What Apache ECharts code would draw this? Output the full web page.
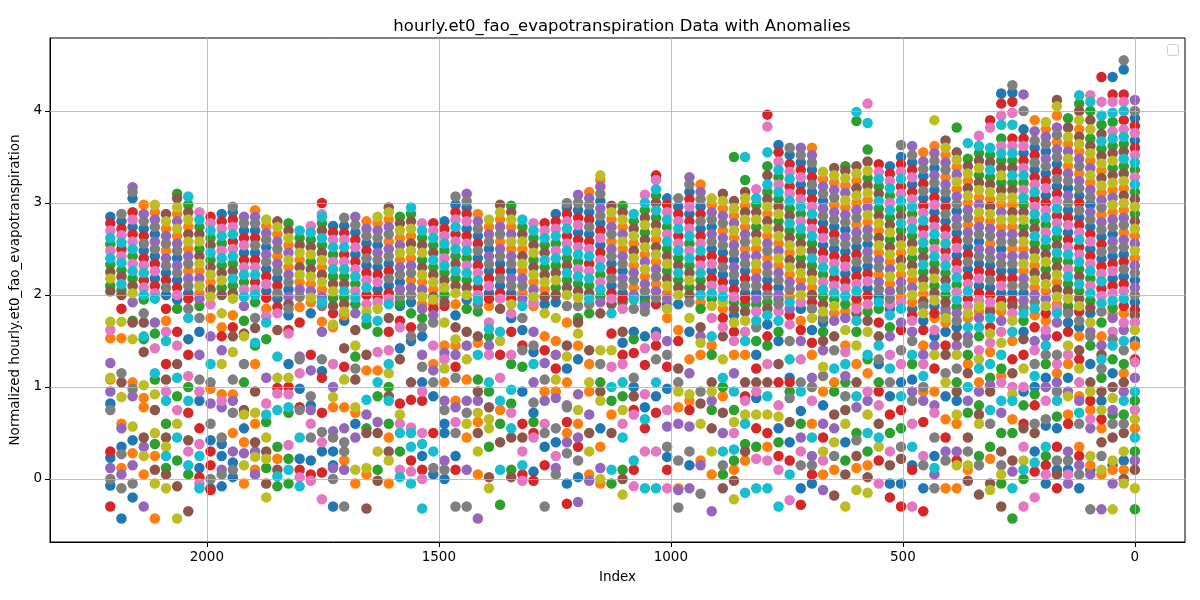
<!DOCTYPE html>
<html>
<head>
<meta charset="utf-8">
<script src="https://cdn.jsdelivr.net/npm/echarts@6/dist/echarts.min.js"></script>
<style>
html,body{margin:0;padding:0;background:#fff;}
#chart{width:1200px;height:600px;}
</style>
</head>
<body>
<div id="chart"></div>
<script>
// column positions (index), left to right on the reversed axis
var colX = [2208,2184,2160,2136,2112,2088,2064,2040,2016,1992,
	1968,1944,1920,1896,1872,1848,1824,1800,1776,1752,
	1728,1704,1680,1656,1632,1608,1584,1560,1536,1512,
	1488,1464,1440,1416,1392,1368,1344,1320,1296,1272,
	1248,1224,1200,1176,1152,1128,1104,1080,1056,1032,
	1008,984,960,936,912,888,864,840,816,792,
	768,744,720,696,672,648,624,600,576,552,
	528,504,480,456,432,408,384,360,336,312,
	288,264,240,216,192,168,144,120,96,72,
	48,24,0];

// normalized values read per column, index 2208 .. 1776
var valsA = [
	[2.85,2.78,2.7,2.62,2.55,2.48,2.4,2.33,2.25,2.18,2.1,2.04,1.71,1.53,1.26,1.1,1.08,0.95,0.75,0.23,0.12,0.0,-0.07,-0.3],
	[2.88,2.8,2.72,2.65,2.57,2.5,2.42,2.35,2.27,2.2,2.12,2.05,2.0,1.71,1.53,1.05,0.89,0.6,0.55,0.27,0.12,0.05,-0.1,-0.43],
	[3.17,3.12,3.05,2.9,2.82,2.74,2.66,2.58,2.5,2.42,2.34,2.26,2.18,2.1,2.02,1.72,1.7,1.52,1.05,0.9,0.57,0.28,0.15,-0.05,-0.2],
	[2.98,2.88,2.8,2.72,2.64,2.56,2.48,2.4,2.32,2.24,2.16,2.08,2.0,1.95,1.7,1.55,1.52,1.38,1.02,0.78,0.45,0.25,0.05,-0.3],
	[2.98,2.9,2.82,2.74,2.66,2.58,2.5,2.42,2.34,2.26,2.18,2.1,2.02,1.96,1.58,1.42,1.15,1.08,0.75,0.5,0.38,0.1,-0.05,-0.43],
	[2.88,2.8,2.72,2.64,2.56,2.48,2.4,2.32,2.24,2.16,2.08,2.0,1.85,1.6,1.5,1.25,0.95,0.85,0.6,0.45,0.25,0.12,0.05,-0.1],
	[3.1,3.05,2.95,2.88,2.8,2.72,2.64,2.56,2.48,2.4,2.32,2.24,2.16,2.08,2.0,1.95,1.6,1.45,1.1,0.9,0.75,0.45,0.2,-0.08,-0.43],
	[3.07,2.98,2.9,2.82,2.74,2.66,2.58,2.5,2.42,2.34,2.26,2.18,2.1,2.02,1.96,1.85,1.52,1.35,1.12,0.85,0.72,0.3,0.15,0.05,-0.35],
	[2.9,2.82,2.74,2.66,2.58,2.5,2.42,2.34,2.26,2.18,2.1,2.02,1.96,1.75,1.6,1.35,1.08,0.85,0.55,0.38,0.12,0.02,-0.05,-0.1],
	[2.85,2.78,2.7,2.62,2.54,2.46,2.38,2.3,2.22,2.14,2.06,1.98,1.75,1.55,1.05,0.98,0.82,0.6,0.42,0.15,0.0,-0.1,-0.12],
	[2.88,2.8,2.72,2.64,2.56,2.48,2.4,2.32,2.24,2.16,2.08,2.0,1.8,1.65,1.4,1.25,0.92,0.78,0.45,0.25,0.1,0.05,-0.08],
	[2.96,2.9,2.82,2.74,2.66,2.58,2.5,2.42,2.34,2.26,2.18,2.1,2.02,1.96,1.78,1.55,1.38,0.92,0.85,0.72,0.5,0.3,0.1,0.02],
	[2.85,2.78,2.7,2.62,2.54,2.46,2.38,2.3,2.22,2.14,2.06,1.98,1.72,1.58,1.55,1.05,0.75,0.7,0.4,0.28,0.15,-0.05],
	[2.92,2.85,2.78,2.7,2.62,2.54,2.46,2.38,2.3,2.22,2.14,2.06,2.0,1.92,1.64,1.48,1.45,0.95,0.72,0.6,0.4,0.24,0.1,0.05],
	[2.82,2.75,2.67,2.6,2.52,2.44,2.36,2.28,2.2,2.12,2.04,1.97,1.77,1.7,1.52,0.82,0.7,0.62,0.3,0.22,0.12,-0.05,-0.2],
	[2.8,2.74,2.66,2.58,2.5,2.42,2.34,2.26,2.18,2.1,2.02,1.96,1.87,1.8,1.33,0.99,0.93,0.75,0.35,0.1,0.03,-0.08],
	[2.78,2.7,2.62,2.54,2.46,2.38,2.3,2.22,2.14,2.06,1.98,1.85,1.78,1.62,1.58,1.25,1.0,0.92,0.78,0.72,0.37,0.1,-0.05],
	[2.7,2.62,2.54,2.46,2.38,2.3,2.22,2.14,2.06,1.98,1.87,1.33,1.3,0.98,0.78,0.75,0.22,0.1,0.02,-0.08],
	[2.75,2.68,2.6,2.52,2.44,2.36,2.28,2.2,2.12,2.04,1.97,1.92,1.18,0.9,0.8,0.75,0.45,0.2,0.05,-0.02]
];

// index 1752 .. 1344
var valsB = [
	[3.0,2.88,2.85,2.78,2.7,2.62,2.54,2.46,2.38,2.3,2.22,2.14,2.06,1.98,1.88,1.71,1.6,1.3,1.17,0.72,0.51,0.3,0.07,-0.22],
	[2.75,2.68,2.6,2.52,2.44,2.36,2.28,2.2,2.12,2.04,1.97,1.88,1.68,1.65,1.0,0.89,0.78,0.52,0.45,0.15,0.12,0.0,-0.3],
	[2.84,2.75,2.67,2.6,2.52,2.44,2.36,2.28,2.2,2.12,2.04,1.97,1.9,1.82,1.78,1.42,1.08,0.78,0.55,0.3,0.2,0.1,-0.3],
	[2.85,2.76,2.68,2.6,2.52,2.44,2.36,2.28,2.2,2.12,2.04,1.97,1.9,1.62,1.45,1.33,1.08,0.78,0.72,0.45,0.1,-0.05],
	[2.8,2.72,2.64,2.56,2.48,2.4,2.32,2.24,2.16,2.08,2.0,1.9,1.75,1.68,1.35,0.86,0.55,0.5,0.12,0.05,-0.32],
	[2.85,2.78,2.7,2.62,2.54,2.46,2.38,2.3,2.22,2.14,2.06,1.98,1.92,1.72,1.6,1.38,1.05,0.9,0.5,0.3,0.1,-0.02],
	[2.95,2.9,2.82,2.74,2.66,2.58,2.5,2.42,2.34,2.26,2.18,2.1,2.02,1.96,1.9,1.6,1.4,1.25,1.0,0.9,0.85,0.6,0.3,0.2,-0.05],
	[2.85,2.78,2.7,2.62,2.54,2.46,2.38,2.3,2.22,2.14,2.06,1.98,1.88,1.72,1.65,1.42,0.82,0.6,0.5,0.3,0.1,0.02],
	[2.95,2.88,2.8,2.72,2.64,2.56,2.48,2.4,2.32,2.24,2.16,2.08,2.0,1.92,1.65,1.55,1.5,0.86,0.56,0.5,0.2,0.08,-0.05],
	[2.78,2.7,2.62,2.54,2.46,2.38,2.3,2.22,2.14,2.06,1.98,1.9,1.85,1.65,1.55,1.35,1.22,1.05,0.85,0.5,0.25,0.1,0.0,-0.32],
	[2.78,2.7,2.62,2.54,2.46,2.38,2.3,2.22,2.14,2.06,1.98,1.95,1.9,1.78,1.7,1.25,1.18,1.05,0.9,0.5,0.12,0.05],
	[2.8,2.72,2.64,2.56,2.48,2.4,2.32,2.24,2.16,2.08,2.0,1.92,1.7,1.45,1.37,1.2,1.05,0.85,0.75,0.5,0.2,0.1,0.0],
	[3.07,2.98,2.9,2.82,2.74,2.66,2.58,2.5,2.42,2.34,2.26,2.18,2.1,2.02,1.9,1.65,1.52,1.45,1.35,1.1,0.85,0.78,0.5,0.25,0.1,-0.3],
	[3.1,3.02,2.95,2.88,2.8,2.72,2.64,2.56,2.48,2.4,2.32,2.24,2.16,2.08,2.0,1.85,1.6,1.3,1.08,0.85,0.6,0.45,0.1,-0.3],
	[2.88,2.8,2.72,2.64,2.56,2.48,2.4,2.32,2.24,2.16,2.08,2.0,1.95,1.82,1.55,1.35,1.08,0.95,0.72,0.62,0.5,0.3,0.05,-0.43],
	[2.82,2.74,2.66,2.58,2.5,2.42,2.34,2.26,2.18,2.1,2.02,1.96,1.7,1.63,1.55,1.35,1.05,0.95,0.78,0.55,0.35,0.02,-0.1],
	[2.98,2.9,2.82,2.74,2.66,2.58,2.5,2.42,2.34,2.26,2.18,2.1,2.02,1.96,1.6,1.35,1.1,0.85,0.6,0.4,0.1,-0.28],
	[2.97,2.9,2.82,2.74,2.66,2.58,2.5,2.42,2.34,2.26,2.18,2.1,2.02,1.96,1.8,1.75,1.6,1.35,0.97,0.82,0.72,0.55,0.1,0.02]
];

// index 1320 .. 912
var valsC = [
	[2.82,2.74,2.66,2.58,2.5,2.42,2.34,2.26,2.18,2.1,2.02,1.96,1.75,1.62,1.45,1.4,0.95,0.6,0.3,0.15,0.05,-0.02],
	[2.78,2.7,2.62,2.54,2.46,2.38,2.3,2.22,2.14,2.06,1.98,1.88,1.6,1.45,1.38,1.05,0.83,0.72,0.5,0.45,0.08,-0.02],
	[2.78,2.7,2.62,2.54,2.46,2.38,2.3,2.22,2.14,2.06,1.98,1.8,1.55,1.26,1.08,0.95,0.85,0.5,0.35,0.15,-0.3],
	[2.88,2.8,2.72,2.64,2.56,2.48,2.4,2.32,2.24,2.16,2.08,2.0,1.75,1.5,1.35,1.08,0.95,0.88,0.55,0.4,0.12,0.05],
	[3.0,2.95,2.88,2.8,2.72,2.64,2.56,2.48,2.4,2.32,2.24,2.16,2.08,2.0,1.7,1.45,1.33,1.05,0.8,0.78,0.5,0.4,0.28,-0.05,-0.27],
	[3.09,3.0,2.92,2.84,2.76,2.68,2.6,2.52,2.44,2.36,2.28,2.2,2.12,2.04,1.97,1.75,1.7,1.58,1.45,0.92,0.75,0.6,0.45,0.2,0.02,-0.25],
	[3.12,3.05,2.98,2.9,2.82,2.74,2.66,2.58,2.5,2.42,2.34,2.26,2.18,2.1,2.02,1.96,1.8,1.4,1.05,0.95,0.5,0.3,0.05,-0.02],
	[3.3,3.25,3.18,3.1,3.02,2.94,2.86,2.78,2.7,2.62,2.54,2.46,2.38,2.3,2.22,2.14,2.06,1.98,1.8,1.4,1.05,0.95,0.85,0.35,0.12,0.0,-0.05],
	[2.97,2.9,2.82,2.74,2.66,2.58,2.5,2.42,2.34,2.26,2.18,2.1,2.02,1.96,1.8,1.58,1.22,1.0,0.85,0.5,0.1,-0.05],
	[2.97,2.9,2.82,2.74,2.66,2.58,2.5,2.42,2.34,2.26,2.18,2.1,2.02,1.96,1.85,1.48,1.35,1.25,1.05,0.9,0.6,0.45,0.1,0.0,-0.17],
	[2.88,2.8,2.72,2.64,2.56,2.48,2.4,2.32,2.24,2.16,2.08,2.0,1.85,1.6,1.37,1.1,1.0,0.75,0.7,0.2,0.1,-0.08],
	[3.09,3.0,2.92,2.84,2.76,2.68,2.6,2.52,2.44,2.36,2.28,2.2,2.12,2.04,1.97,1.88,1.82,1.55,1.24,0.92,0.78,0.55,0.3,-0.1],
	[3.3,3.25,3.15,3.08,3.0,2.92,2.84,2.76,2.68,2.6,2.52,2.44,2.36,2.28,2.2,2.12,2.04,1.97,1.6,1.45,1.3,0.9,0.72,0.3,-0.1],
	[3.05,2.98,2.9,2.82,2.74,2.66,2.58,2.5,2.42,2.34,2.26,2.18,2.1,2.02,1.96,1.85,1.75,1.5,1.35,0.98,0.57,0.35,0.24,0.1,-0.1],
	[3.05,2.96,2.88,2.8,2.72,2.64,2.56,2.48,2.4,2.32,2.24,2.16,2.08,2.0,1.62,1.2,0.95,0.78,0.6,0.2,-0.1,-0.12,-0.31],
	[3.28,3.2,3.12,3.04,2.96,2.88,2.8,2.72,2.64,2.56,2.48,2.4,2.32,2.24,2.16,2.08,2.0,1.75,1.3,1.15,0.92,0.85,0.57,0.3,0.15,-0.1],
	[3.2,3.12,3.04,2.96,2.88,2.8,2.72,2.64,2.56,2.48,2.4,2.32,2.24,2.16,2.08,2.0,1.85,1.65,1.48,1.35,0.82,0.6,0.2,0.15,-0.16],
	[3.05,2.98,2.9,2.82,2.74,2.66,2.58,2.5,2.42,2.34,2.26,2.18,2.1,2.02,1.96,1.75,1.55,1.35,1.05,0.95,0.75,0.55,0.3,0.05,-0.35]
];

// index 888 .. 456
var valsD = [
	[3.1,3.02,2.94,2.86,2.78,2.7,2.62,2.54,2.46,2.38,2.3,2.22,2.14,2.06,1.98,1.75,1.65,1.1,1.0,0.72,0.3,0.05,-0.1],
	[3.5,3.02,2.94,2.86,2.78,2.7,2.62,2.54,2.46,2.38,2.3,2.22,2.14,2.06,1.98,1.78,1.6,1.5,0.95,0.75,0.5,0.32,0.2,-0.02,-0.22],
	[3.5,3.25,3.12,3.05,2.97,2.9,2.82,2.74,2.66,2.58,2.5,2.42,2.34,2.26,2.18,2.1,2.02,1.96,1.6,1.5,0.9,0.85,0.6,0.38,0.3,-0.15],
	[3.15,3.05,2.98,2.9,2.82,2.74,2.66,2.58,2.5,2.42,2.34,2.26,2.18,2.1,2.02,1.96,1.65,1.35,1.2,0.95,0.88,0.55,0.22,-0.1],
	[3.96,3.83,3.55,3.4,3.3,3.2,3.12,3.04,2.96,2.88,2.8,2.72,2.64,2.56,2.48,2.4,2.32,2.24,2.16,2.08,2.0,1.68,1.55,1.25,0.9,0.5,0.2,-0.1],
	[3.63,3.55,3.45,3.36,3.28,3.2,3.12,3.04,2.96,2.88,2.8,2.72,2.64,2.56,2.48,2.4,2.32,2.24,2.16,2.08,2.0,1.9,1.5,1.05,0.8,0.55,0.25,0.1,-0.3],
	[3.6,3.52,3.42,3.34,3.26,3.18,3.1,3.02,2.94,2.86,2.78,2.7,2.62,2.54,2.46,2.38,2.3,2.22,2.14,2.06,1.98,1.85,1.5,1.1,1.05,0.88,0.4,0.2,-0.23],
	[3.6,3.52,3.44,3.36,3.28,3.2,3.12,3.04,2.96,2.88,2.8,2.72,2.64,2.56,2.48,2.4,2.32,2.24,2.16,2.08,2.0,1.72,1.5,1.05,0.74,0.45,0.15,-0.1,-0.28],
	[3.6,3.52,3.44,3.36,3.28,3.2,3.12,3.04,2.96,2.88,2.8,2.72,2.64,2.56,2.48,2.4,2.32,2.24,2.16,2.08,2.0,1.75,1.35,1.1,1.0,0.6,0.25,0.15,-0.05],
	[3.34,3.26,3.18,3.1,3.02,2.94,2.86,2.78,2.7,2.62,2.54,2.46,2.38,2.3,2.22,2.14,2.06,1.98,1.9,1.82,1.6,1.5,1.22,0.95,0.6,0.3,0.05,-0.12],
	[3.38,3.3,3.22,3.14,3.06,2.98,2.9,2.82,2.74,2.66,2.58,2.5,2.42,2.34,2.26,2.18,2.1,2.02,1.95,1.55,1.2,0.95,0.7,0.4,0.1,-0.18],
	[3.4,3.35,3.27,3.19,3.11,3.03,2.95,2.87,2.79,2.71,2.63,2.55,2.47,2.39,2.31,2.23,2.15,2.07,1.99,1.9,1.38,1.25,1.05,0.75,0.6,0.2,0.05,-0.3],
	[3.99,3.89,3.4,3.32,3.24,3.16,3.08,3.0,2.92,2.84,2.76,2.68,2.6,2.52,2.44,2.36,2.28,2.2,2.12,2.04,1.96,1.85,1.72,1.6,1.05,0.9,0.5,0.25,-0.12],
	[4.08,3.87,3.58,3.45,3.35,3.27,3.19,3.11,3.03,2.95,2.87,2.79,2.71,2.63,2.55,2.47,2.39,2.31,2.23,2.15,2.07,1.99,1.9,1.35,1.3,0.95,0.5,0.3,0.02,-0.15],
	[3.42,3.34,3.26,3.18,3.1,3.02,2.94,2.86,2.78,2.7,2.62,2.54,2.46,2.38,2.3,2.22,2.14,2.06,1.98,1.7,1.3,1.25,0.95,0.8,0.45,0.2,-0.05],
	[3.4,3.32,3.24,3.16,3.08,3.0,2.92,2.84,2.76,2.68,2.6,2.52,2.44,2.36,2.28,2.2,2.12,2.04,1.96,1.85,1.55,1.05,0.9,0.7,0.3,-0.05,-0.2],
	[3.63,3.5,3.42,3.34,3.26,3.18,3.1,3.02,2.94,2.86,2.78,2.7,2.62,2.54,2.46,2.38,2.3,2.22,2.14,2.06,1.98,1.7,1.4,1.05,0.75,0.35,-0.05,-0.3],
	[3.62,3.52,3.44,3.36,3.28,3.2,3.12,3.04,2.96,2.88,2.8,2.72,2.64,2.56,2.48,2.4,2.32,2.24,2.16,2.08,2.0,1.92,1.6,1.5,1.08,0.95,0.85,0.15,0.1,-0.3],
	[3.55,3.45,3.37,3.29,3.21,3.13,3.05,2.97,2.89,2.81,2.73,2.65,2.57,2.49,2.41,2.33,2.25,2.17,2.09,2.01,1.93,1.8,1.45,1.35,1.0,0.95,0.85,0.15,-0.1,-0.35]
];

// index 432 .. 0
var valsE = [
	[3.9,3.62,3.54,3.46,3.38,3.3,3.22,3.14,3.06,2.98,2.9,2.82,2.74,2.66,2.58,2.5,2.42,2.34,2.26,2.18,2.1,2.02,1.94,1.75,1.45,1.35,0.95,0.8,0.45,0.25,0.05,-0.1],
	[3.68,3.6,3.52,3.44,3.36,3.28,3.2,3.12,3.04,2.96,2.88,2.8,2.72,2.64,2.56,2.48,2.4,2.32,2.24,2.16,2.08,2.0,1.92,1.75,1.7,1.35,1.05,0.65,0.3,0.2,-0.1],
	[3.82,3.55,3.47,3.39,3.31,3.23,3.15,3.07,2.99,2.91,2.83,2.75,2.67,2.59,2.51,2.43,2.35,2.27,2.19,2.11,2.03,1.95,1.87,1.55,1.35,1.05,0.95,0.7,0.6,0.3,0.15,-0.1],
	[3.65,3.48,3.4,3.32,3.24,3.16,3.08,3.0,2.92,2.84,2.76,2.68,2.6,2.52,2.44,2.36,2.28,2.2,2.12,2.04,1.96,1.88,1.65,1.35,1.15,1.0,0.72,0.45,0.15,0.1,-0.02],
	[3.73,3.62,3.54,3.46,3.38,3.3,3.22,3.14,3.06,2.98,2.9,2.82,2.74,2.66,2.58,2.5,2.42,2.34,2.26,2.18,2.1,2.02,1.94,1.65,1.55,1.4,1.2,0.8,0.7,0.6,0.25,-0.17],
	[3.9,3.82,3.6,3.52,3.44,3.36,3.28,3.2,3.12,3.04,2.96,2.88,2.8,2.72,2.64,2.56,2.48,2.4,2.32,2.24,2.16,2.08,2.0,1.92,1.75,1.65,1.48,1.25,1.1,0.95,0.75,0.35,-0.05,-0.12],
	[4.19,4.08,3.95,3.85,3.7,3.62,3.54,3.46,3.38,3.3,3.22,3.14,3.06,2.98,2.9,2.82,2.74,2.66,2.58,2.5,2.42,2.34,2.26,2.18,2.1,2.02,1.94,1.6,1.35,1.2,1.05,0.85,0.5,0.3,0.05,-0.05,-0.3],
	[4.28,4.2,4.1,3.98,3.85,3.7,3.62,3.54,3.46,3.38,3.3,3.22,3.14,3.06,2.98,2.9,2.82,2.74,2.66,2.58,2.5,2.42,2.34,2.26,2.18,2.1,2.02,1.94,1.8,1.6,1.3,1.0,0.85,0.5,0.2,-0.1,-0.43],
	[4.18,4.0,3.8,3.7,3.62,3.54,3.46,3.38,3.3,3.22,3.14,3.06,2.98,2.9,2.82,2.74,2.66,2.58,2.5,2.42,2.34,2.26,2.18,2.1,2.02,1.94,1.86,1.6,1.35,1.0,0.95,0.6,0.35,0.1,0.0,-0.3],
	[3.9,3.78,3.68,3.6,3.52,3.44,3.36,3.28,3.2,3.12,3.04,2.96,2.88,2.8,2.72,2.64,2.56,2.48,2.4,2.32,2.24,2.16,2.08,2.0,1.92,1.78,1.5,1.25,1.0,0.8,0.6,0.3,0.08,-0.2],
	[3.88,3.8,3.72,3.64,3.56,3.48,3.4,3.32,3.24,3.16,3.08,3.0,2.92,2.84,2.76,2.68,2.6,2.52,2.44,2.36,2.28,2.2,2.12,2.04,1.96,1.88,1.72,1.55,1.35,1.1,1.0,0.65,0.58,0.15,0.05,-0.05],
	[4.12,4.05,3.95,3.82,3.74,3.66,3.58,3.5,3.42,3.34,3.26,3.18,3.1,3.02,2.94,2.86,2.78,2.7,2.62,2.54,2.46,2.38,2.3,2.22,2.14,2.06,1.98,1.9,1.7,1.35,1.15,1.05,0.95,0.55,0.35,0.2,0.1,-0.1],
	[3.92,3.82,3.72,3.64,3.56,3.48,3.4,3.32,3.24,3.16,3.08,3.0,2.92,2.84,2.76,2.68,2.6,2.52,2.44,2.36,2.28,2.2,2.12,2.04,1.96,1.88,1.82,1.45,1.25,0.95,0.9,0.7,0.3,0.2,0.1,-0.05],
	[4.17,4.08,4.0,3.9,3.8,3.72,3.64,3.56,3.48,3.4,3.32,3.24,3.16,3.08,3.0,2.92,2.84,2.76,2.68,2.6,2.52,2.44,2.36,2.28,2.2,2.12,2.04,1.96,1.88,1.55,1.4,1.2,0.9,0.85,0.6,0.35,0.15,0.05,-0.1],
	[4.17,4.1,4.0,3.9,3.8,3.7,3.62,3.54,3.46,3.38,3.3,3.22,3.14,3.06,2.98,2.9,2.82,2.74,2.66,2.58,2.5,2.42,2.34,2.26,2.18,2.1,2.02,1.94,1.86,1.7,1.45,1.05,0.95,0.75,0.55,0.25,0.15,0.05,-0.33],
	[4.37,4.1,3.95,3.85,3.75,3.67,3.59,3.51,3.43,3.35,3.27,3.19,3.11,3.03,2.95,2.87,2.79,2.71,2.63,2.55,2.47,2.39,2.31,2.23,2.15,2.07,1.99,1.91,1.7,1.35,1.3,1.1,0.95,0.75,0.55,0.4,0.1,0.05,-0.33],
	[4.37,4.18,4.1,3.98,3.88,3.78,3.7,3.62,3.54,3.46,3.38,3.3,3.22,3.14,3.06,2.98,2.9,2.82,2.74,2.66,2.58,2.5,2.42,2.34,2.26,2.18,2.1,2.02,1.94,1.86,1.6,1.45,1.3,1.0,0.88,0.7,0.45,0.2,0.1,-0.05,-0.33],
	[4.55,4.45,4.18,4.1,4.0,3.9,3.8,3.72,3.64,3.56,3.48,3.4,3.32,3.24,3.16,3.08,3.0,2.92,2.84,2.76,2.68,2.6,2.52,2.44,2.36,2.28,2.2,2.12,2.04,1.96,1.88,1.7,1.5,1.25,1.05,0.85,0.7,0.5,0.3,0.1,0.0,-0.05],
	[4.12,4.0,3.92,3.84,3.76,3.68,3.6,3.52,3.44,3.36,3.28,3.2,3.12,3.04,2.96,2.88,2.8,2.72,2.64,2.56,2.48,2.4,2.32,2.24,2.16,2.08,2.0,1.92,1.84,1.7,1.5,1.3,1.27,0.95,0.85,0.75,0.45,0.3,0.1,-0.1,-0.33]
];

// further points below the dense band, same column order
var lowA = [
	[1.62,0.82,0.3],[1.85,1.15,0.35],[1.92,0.98,0.42],[1.8,0.88,0.35],[1.7,0.92,0.25],
	[1.72,1.08,0.35],[1.85,1.25,0.6],[1.75,1.0,0.42],[1.88,0.95,0.25],[1.9,1.25,0.3],
	[1.55,0.85,0.38],[1.65,1.08,0.18],[1.88,1.25,0.55],[1.75,1.25,0.3],[1.85,1.1,0.45],
	[1.62,1.1,0.22],[1.9,1.1,0.22],[1.7,1.15,0.45],[1.8,1.35,0.6]
];
var lowB = [
	[1.92,1.1,0.4],[1.8,1.25,0.3],[1.72,1.22,0.4],[1.8,1.2,0.6],[1.82,1.18,0.7],
	[1.85,1.18,0.62],[1.75,1.15,0.45],[1.92,1.3,0.7],[1.8,1.05,0.35],[1.75,0.95,0.38],
	[1.85,1.45,0.3],[1.88,1.3,0.6],[1.78,1.22,0.62],[1.95,1.45,0.72],[1.9,1.48,0.85],
	[1.88,1.45,0.65],[1.85,1.5,0.75],[1.9,1.25,0.45]
];
var lowC = [
	[1.88,1.22,0.45],[1.92,1.25,0.62],[1.9,1.4,0.6],[1.92,1.2,0.25],[1.88,1.2,0.62],
	[1.88,1.3,0.35],[1.9,1.25,0.7],[1.92,1.25,0.55],[1.9,1.4,0.7],[1.92,1.6,0.75],
	[1.95,1.52,0.9],[1.92,1.42,0.65],[1.9,1.55,1.05],[1.9,1.22,0.75],[1.9,1.5,1.05],
	[1.92,1.6,0.75],[1.92,1.55,0.95],[1.88,1.45,0.85]
];
var lowD = [
	[1.92,1.85,1.55,1.3,0.9,0.5,0.15],[1.92,1.85,1.7,1.35,1.15,0.62,0.1],[1.9,1.82,1.72,1.35,1.05,0.7,0.2],
	[1.9,1.82,1.72,1.5,1.05,0.7,0.35],[1.92,1.85,1.78,1.45,1.05,0.7,0.35],[1.95,1.82,1.72,1.6,1.25,0.68,0.4],
	[1.92,1.78,1.68,1.3,0.95,0.62,0.05],[1.92,1.85,1.62,1.3,0.95,0.6,0.3],[1.92,1.85,1.62,1.48,0.85,0.45,0.05],
	[1.75,1.7,1.4,1.12,0.8,0.45,0.2],[1.88,1.8,1.72,1.4,1.05,0.55,0.25],[1.82,1.75,1.62,1.45,1.12,0.9,0.4],
	[1.9,1.8,1.45,1.25,0.78,0.42,0.12],[1.82,1.72,1.6,1.15,0.85,0.7,0.15],[1.92,1.85,1.55,1.45,1.05,0.6,0.35],
	[1.9,1.78,1.65,1.35,1.2,0.5,0.15],[1.92,1.85,1.62,1.25,0.9,0.55,0.22],[1.85,1.78,1.72,1.35,1.25,0.6,0.35],
	[1.88,1.72,1.62,1.25,1.12,0.62,0.25]
];
var lowE = [
	[1.88,1.8,1.62,1.55,1.2,0.72,0.12],[1.85,1.8,1.6,1.45,1.15,0.9,0.45],[1.8,1.72,1.65,1.45,1.2,0.85,0.2],
	[1.8,1.75,1.55,1.48,1.25,0.85,0.3],[1.88,1.82,1.75,1.3,1.05,0.95,0.15],[1.85,1.82,1.58,1.38,1.02,0.6,0.22],
	[1.88,1.82,1.72,1.48,1.12,0.72,0.15],[1.88,1.72,1.5,1.15,0.92,0.65,0.08],[1.8,1.72,1.52,1.2,0.8,0.55,0.2],
	[1.85,1.65,1.4,1.12,0.92,0.5,0.18],[1.8,1.62,1.45,1.25,0.85,0.35,0.25],[1.85,1.8,1.55,1.25,0.85,0.68,0.05],
	[1.8,1.7,1.6,1.35,1.1,0.6,0.05],[1.82,1.72,1.65,1.3,1.05,0.72,0.25],[1.8,1.6,1.55,1.25,0.85,0.65,0.1],
	[1.82,1.55,1.45,1.2,0.85,0.65,0.25],[1.8,1.75,1.52,1.15,0.75,0.6,0.15],[1.8,1.62,1.4,1.15,0.95,0.6,0.2],
	[1.78,1.62,1.45,1.1,0.65,0.55,0.2]
];

var xTicks = [0, 500, 1000, 1500, 2000];
var yTicks = [0, 1, 2, 3, 4];
var palette = ['#1f77b4','#ff7f0e','#2ca02c','#d62728','#9467bd','#8c564b','#e377c2','#7f7f7f','#bcbd22','#17becf'];

var chart = echarts.init(document.getElementById('chart'));

var cols = valsA.concat(valsB, valsC, valsD, valsE);
var lows = lowA.concat(lowB, lowC, lowD, lowE);
var groups = palette.map(function(){ return []; });
cols.forEach(function(vals, i){
	vals.concat(lows[i]).forEach(function(v, j){
		groups[(j * 3 + i * 7 + Math.floor(j / 5)) % 10].push([colX[i], v]);
	});
});

var series = groups.map(function(pts, s){
	return {
		type: 'scatter',
		data: pts,
		symbolSize: 10.5,
		itemStyle: {color: palette[s], opacity: 1},
		z: 2,
		silent: true
	};
});

// grid lines sit on top of the points, as in the original
series.push({
	type: 'scatter',
	data: [],
	z: 5,
	markLine: {
		silent: true,
		symbol: ['none', 'none'],
		label: {show: false},
		lineStyle: {color: '#b0b0b0', width: 0.8, type: 'solid'},
		data: xTicks.map(function(v){ return {xAxis: v}; })
			.concat(yTicks.map(function(v){ return {yAxis: v}; }))
	}
});

var font = 'DejaVu Sans';
var plain = function(v){ return String(v); };

option = {
	animation: false,
	backgroundColor: '#fff',
	title: {
		text: 'hourly.et0_fao_evapotranspiration Data with Anomalies',
		left: 617,
		top: 13,
		textAlign: 'center',
		textStyle: {fontFamily: font, fontSize: 16.5, fontWeight: 'normal', color: '#000'}
	},
	grid: {
		left: 50, right: 15, top: 38, bottom: 58,
		show: true, borderColor: '#000', borderWidth: 1, backgroundColor: 'transparent'
	},
	xAxis: {
		type: 'value',
		inverse: true,
		min: -108,
		max: 2338,
		name: 'Index',
		nameLocation: 'middle',
		nameGap: 28,
		nameTextStyle: {fontFamily: font, fontSize: 13.5, color: '#000'},
		axisLine: {show: true, onZero: false, lineStyle: {color: '#000', width: 1}},
		axisTick: {show: true, customValues: xTicks, length: 5, lineStyle: {color: '#000'}},
		axisLabel: {customValues: xTicks, formatter: plain, fontFamily: font, fontSize: 13.5, color: '#000', margin: 8},
		splitLine: {show: false}
	},
	yAxis: {
		type: 'value',
		min: -0.685,
		max: 4.793,
		name: 'Normalized hourly.et0_fao_evapotranspiration',
		nameLocation: 'middle',
		nameGap: 20,
		nameTextStyle: {fontFamily: font, fontSize: 13.5, color: '#000'},
		axisLine: {show: true, onZero: false, lineStyle: {color: '#000', width: 1}},
		axisTick: {show: true, customValues: yTicks, length: 5, lineStyle: {color: '#000'}},
		axisLabel: {customValues: yTicks, formatter: plain, fontFamily: font, fontSize: 13.5, color: '#000', margin: 8},
		splitLine: {show: false}
	},
	graphic: [{
		type: 'rect',
		shape: {x: 1167.5, y: 44.5, width: 11, height: 11, r: 2},
		style: {fill: '#fff', stroke: '#cccccc', lineWidth: 1},
		z: 100
	}],
	series: series
};

chart.setOption(option);
</script>
</body>
</html>
